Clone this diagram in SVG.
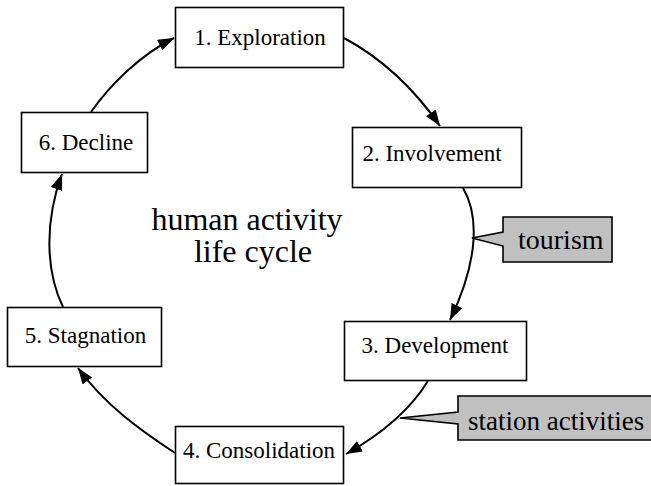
<svg xmlns="http://www.w3.org/2000/svg" width="651" height="486" viewBox="0 0 651 486">
  <style>
    .node rect { fill: #ffffff; stroke: #000000; stroke-width: 1.6; }
    .node text { font-family: "Liberation Serif", "Times New Roman", serif; font-size: 23px; fill: #000000; text-anchor: middle; }
    .note polygon { fill: #c0c0c0; stroke: #000000; stroke-width: 1.6; }
    .note text { font-family: "Liberation Serif", "Times New Roman", serif; fill: #000000; }
    .edge { fill: none; stroke: #000000; stroke-width: 2; marker-end: url(#arrow); }
    .title { font-family: "Liberation Serif", "Times New Roman", serif; font-size: 32px; fill: #000000; text-anchor: middle; }
  </style>
  <defs>
    <marker id="arrow" markerUnits="userSpaceOnUse" markerWidth="17" markerHeight="12" refX="16" refY="6" orient="auto">
      <path d="M0,0 L16,6 L0,12 z" fill="#000000"/>
    </marker>
  </defs>
  <rect width="651" height="486" fill="#ffffff"/>

  <!-- cycle arrows -->
  <g id="edges">
    <path class="edge" d="M344,38 C385,60 415,90 440,126"/>
    <path class="edge" d="M463,188 C479,215 479,260 450,320"/>
    <path class="edge" d="M428,381 C410,410 380,435 346,454"/>
    <path class="edge" d="M175,453 C140,430 105,405 78,368"/>
    <path class="edge" d="M63,307 C45,270 45,220 62,174"/>
    <path class="edge" d="M91,112 C110,85 140,55 174,38"/>
  </g>

  <!-- stages -->
  <g id="n1" class="node">
    <rect x="175.5" y="7.5" width="168" height="60"/>
    <text x="260" y="45">1. Exploration</text>
  </g>
  <g id="n2" class="node">
    <rect x="352.5" y="127.5" width="169" height="60"/>
    <text x="432" y="161">2. Involvement</text>
  </g>
  <g id="n3" class="node">
    <rect x="344.5" y="321.5" width="182" height="59"/>
    <text x="435" y="353">3. Development</text>
  </g>
  <g id="n4" class="node">
    <rect x="175.5" y="426.5" width="168" height="57"/>
    <text x="259" y="458">4. Consolidation</text>
  </g>
  <g id="n5" class="node">
    <rect x="7.5" y="307.5" width="154" height="59"/>
    <text x="85.5" y="343">5. Stagnation</text>
  </g>
  <g id="n6" class="node">
    <rect x="21.5" y="112.5" width="126" height="60"/>
    <text x="86" y="150">6. Decline</text>
  </g>

  <!-- callouts -->
  <g id="tourism" class="note">
    <polygon points="503,217 612,217 612,262 503,262 503,246 472,238 503,232"/>
    <text x="518" y="249" font-size="28">tourism</text>
  </g>
  <g id="station" class="note">
    <polygon points="458,396 662,396 662,440 458,440 458,424 400,418 458,412"/>
    <text x="468" y="430" font-size="27">station activities</text>
  </g>

  <!-- centre caption -->
  <g id="caption">
    <text class="title" x="247" y="230">human activity</text>
    <text class="title" x="253" y="262">life cycle</text>
  </g>
</svg>
